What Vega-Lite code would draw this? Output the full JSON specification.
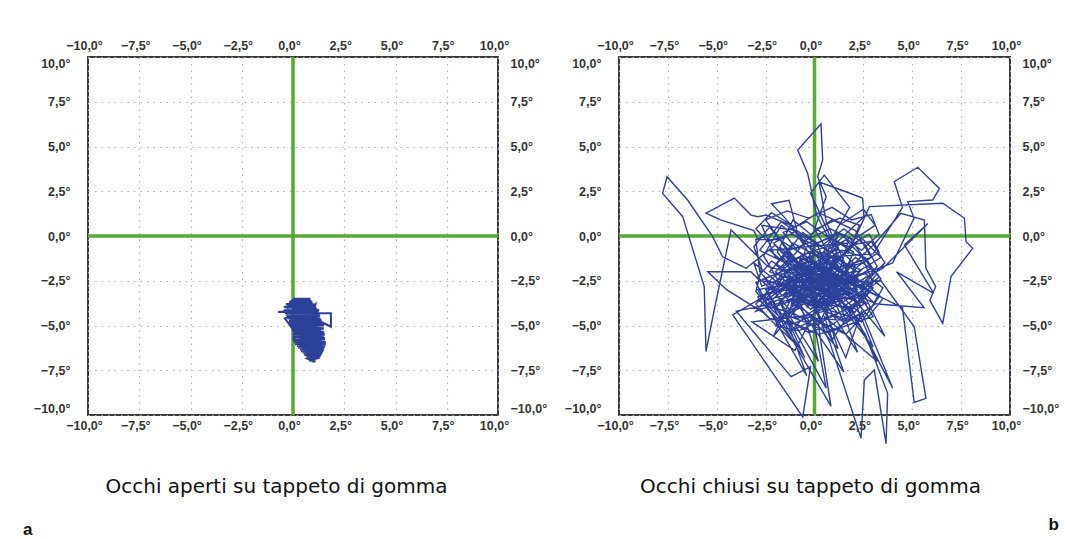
{
 "$schema": "https://vega.github.io/schema/vega-lite/v6.json",
 "padding": {"left": 22, "top": 38, "right": 0, "bottom": 0},
 "background": "white",
 "datasets": {
  "a": [
   {"x":0.0,"y":-3.5},{"x":0.85,"y":-3.5},{"x":-0.15,"y":-3.65},{"x":0.95,"y":-3.7},{"x":-0.3,"y":-3.85},{"x":1.05,"y":-3.9},{"x":-0.4,"y":-4.0},{"x":1.15,"y":-4.05},{"x":-0.73,"y":-4.25},{"x":1.2,"y":-4.2},{"x":-0.4,"y":-4.3},{"x":1.28,"y":-4.32},{"x":1.85,"y":-4.32},{"x":1.85,"y":-5.07},{"x":1.37,"y":-4.79},{"x":-0.3,"y":-4.5},{"x":1.3,"y":-4.55},{"x":-0.2,"y":-4.7},{"x":1.4,"y":-4.75},{"x":-0.15,"y":-4.9},{"x":1.45,"y":-4.95},{"x":-0.1,"y":-5.05},{"x":1.5,"y":-5.15},{"x":-0.05,"y":-5.25},{"x":1.5,"y":-5.35},{"x":0.0,"y":-5.45},{"x":1.55,"y":-5.5},{"x":0.0,"y":-5.6},{"x":1.55,"y":-5.7},{"x":0.0,"y":-5.8},{"x":1.58,"y":-5.9},{"x":0.05,"y":-5.95},{"x":1.6,"y":-6.05},{"x":0.2,"y":-6.15},{"x":1.55,"y":-6.2},{"x":0.35,"y":-6.35},{"x":1.5,"y":-6.4},{"x":0.5,"y":-6.55},{"x":1.4,"y":-6.6},{"x":0.65,"y":-6.75},{"x":1.3,"y":-6.8},{"x":0.8,"y":-6.95},{"x":1.1,"y":-7.0},
   {"x":1.0,"y":-7.02},{"x":0.7,"y":-6.85},{"x":1.35,"y":-6.7},{"x":0.55,"y":-6.65},{"x":1.45,"y":-6.5},{"x":0.4,"y":-6.45},{"x":1.52,"y":-6.3},{"x":0.25,"y":-6.25},{"x":1.58,"y":-6.12},{"x":0.1,"y":-6.05},{"x":1.6,"y":-5.95},{"x":0.0,"y":-5.85},{"x":1.56,"y":-5.75},{"x":-0.02,"y":-5.65},{"x":1.55,"y":-5.55},{"x":-0.03,"y":-5.5},{"x":1.52,"y":-5.4},{"x":-0.05,"y":-5.3},{"x":1.5,"y":-5.2},{"x":-0.1,"y":-5.1},{"x":1.47,"y":-5.0},{"x":-0.12,"y":-4.95},{"x":1.42,"y":-4.85},{"x":-0.2,"y":-4.8},{"x":1.38,"y":-4.65},{"x":-0.28,"y":-4.6},{"x":1.32,"y":-4.48},{"x":-0.35,"y":-4.4},{"x":1.25,"y":-4.35},{"x":-0.45,"y":-4.15},{"x":1.2,"y":-4.1},{"x":-0.45,"y":-3.95},{"x":1.1,"y":-3.95},{"x":-0.35,"y":-3.8},{"x":1.0,"y":-3.8},{"x":-0.2,"y":-3.7},{"x":0.9,"y":-3.62},{"x":-0.05,"y":-3.58},{"x":0.8,"y":-3.52},
   {"x":0.9,"y":-6.7},{"x":0.3,"y":-6.1},{"x":1.2,"y":-6.5},{"x":0.1,"y":-5.5},{"x":1.4,"y":-6.1},{"x":-0.05,"y":-5.1},{"x":1.5,"y":-5.6},{"x":0.4,"y":-4.6},{"x":1.2,"y":-5.9},{"x":-0.2,"y":-4.4},{"x":0.8,"y":-5.3},{"x":1.3,"y":-4.4},{"x":0.0,"y":-5.8},{"x":0.6,"y":-4.0},{"x":1.5,"y":-5.0},{"x":-0.3,"y":-4.1},{"x":1.1,"y":-4.6},{"x":0.3,"y":-3.6},{"x":0.9,"y":-4.9},{"x":-0.1,"y":-3.8},{"x":1.35,"y":-5.3},{"x":0.2,"y":-4.8},{"x":1.0,"y":-3.9},{"x":-0.4,"y":-4.6},{"x":0.7,"y":-6.3},{"x":1.45,"y":-5.7},{"x":0.1,"y":-4.2},{"x":0.5,"y":-5.9},{"x":1.25,"y":-4.1},{"x":0.3,"y":-5.2},{"x":1.0,"y":-6.7},{"x":0.6,"y":-4.3},{"x":1.5,"y":-6.2},{"x":0.0,"y":-4.0},{"x":0.8,"y":-5.6},{"x":1.1,"y":-3.8},{"x":-0.2,"y":-5.0},{"x":0.4,"y":-3.7}
  ],
  "b": [
   {"x":0.2,"y":-2.0},{"x":1.3,"y":-1.1},{"x":0.6,"y":-2.6},{"x":1.9,"y":-3.4},{"x":0.8,"y":-4.1},{"x":-0.4,"y":-3.0},{"x":-1.6,"y":-3.8},{"x":-2.4,"y":-2.6},{"x":-1.2,"y":-1.5},{"x":-2.1,"y":-0.4},{"x":-0.9,"y":0.3},{"x":0.3,"y":-0.6},{"x":1.5,"y":0.4},{"x":2.6,"y":-0.5},{"x":3.2,"y":-1.7},{"x":2.3,"y":-2.9},{"x":3.1,"y":-3.8},{"x":2.0,"y":-4.6},{"x":0.9,"y":-5.3},{"x":-0.2,"y":-4.5},{"x":-1.3,"y":-5.0},{"x":-2.2,"y":-4.1},{"x":-3.0,"y":-3.1},{"x":-2.7,"y":-1.8},{"x":-3.1,"y":-0.6},{"x":-2.3,"y":0.5},{"x":-1.4,"y":-0.7},{"x":-0.5,"y":-1.9},{"x":0.7,"y":-1.4},{"x":1.8,"y":-2.2},
   {"x":0.8,"y":-0.3},{"x":0.1,"y":1.2},{"x":-0.35,"y":3.5},{"x":-0.86,"y":4.8},{"x":0.33,"y":6.26},{"x":0.42,"y":4.25},{"x":0.16,"y":3.31},{"x":0.6,"y":2.2},{"x":0.0,"y":0.4},{"x":1.2,"y":-1.8},
   {"x":2.9,"y":-1.2},{"x":2.1,"y":0.3},{"x":0.9,"y":0.9},{"x":-0.2,"y":0.1},{"x":-1.1,"y":0.9},{"x":-1.9,"y":-0.9},{"x":-0.8,"y":-2.5},{"x":0.4,"y":-3.4},{"x":1.4,"y":-4.0},{"x":2.5,"y":-3.2},{"x":3.4,"y":-2.4},{"x":2.7,"y":-1.4},{"x":1.6,"y":-1.8},{"x":0.5,"y":-0.9},{"x":-0.6,"y":-1.3},{"x":-1.7,"y":-2.2},{"x":-2.8,"y":-3.6},{"x":-1.9,"y":-4.6},{"x":-0.7,"y":-4.0},{"x":0.3,"y":-4.8},{"x":1.6,"y":-5.5},{"x":2.6,"y":-4.3},{"x":1.8,"y":-3.1},{"x":0.9,"y":-2.1},{"x":-0.3,"y":-2.8},{"x":-1.3,"y":-3.4},{"x":-0.4,"y":-0.6},{"x":0.8,"y":-0.1},{"x":2.0,"y":-0.9},{"x":1.2,"y":-2.8},
   {"x":-2.4,"y":-1.7},{"x":-4.27,"y":0.34},{"x":-4.7,"y":-1.9},{"x":-5.13,"y":-4.13},{"x":-5.55,"y":-6.45},{"x":-5.64,"y":-2.83},{"x":-6.74,"y":1.08},{"x":-7.77,"y":2.38},{"x":-7.54,"y":3.31},{"x":-6.49,"y":2.01},{"x":-5.21,"y":-0.04},{"x":-4.7,"y":-1.16},{"x":-3.5,"y":-1.8},{"x":-2.0,"y":-0.5},{"x":-0.4,"y":-2.3},
   {"x":-2.5,"y":0.9},{"x":-1.4,"y":1.4},{"x":-0.3,"y":1.0},{"x":0.9,"y":1.6},{"x":1.9,"y":0.9},{"x":2.9,"y":1.2},{"x":3.3,"y":0.1},{"x":2.4,"y":-0.8},{"x":1.2,"y":0.2},{"x":0.0,"y":-0.5},{"x":-1.2,"y":0.1},{"x":-2.4,"y":-0.3},{"x":-3.0,"y":0.4},{"x":-2.2,"y":1.3},{"x":-1.0,"y":0.5},{"x":0.2,"y":1.3},{"x":1.4,"y":0.7},{"x":2.5,"y":1.5},{"x":3.1,"y":0.6},{"x":2.0,"y":-0.2},{"x":0.8,"y":0.4},{"x":-0.4,"y":-0.2},{"x":-1.7,"y":0.8},{"x":-2.8,"y":-0.8},{"x":-1.5,"y":-1.5},{"x":-0.2,"y":-0.9},{"x":1.1,"y":-1.5},{"x":2.4,"y":-0.1},{"x":3.4,"y":-1.2},{"x":2.2,"y":-2.0},
   {"x":1.1,"y":-1.2},{"x":0.4,"y":-3.1},{"x":-0.8,"y":-2.2},{"x":0.9,"y":-3.6},{"x":1.8,"y":-2.4},{"x":0.6,"y":-1.5},{"x":-1.5,"y":-2.8},{"x":-0.2,"y":-4.1},{"x":1.3,"y":-3.0},{"x":2.4,"y":-1.9},{"x":0.0,"y":-0.8},{"x":-1.1,"y":-3.5},{"x":1.6,"y":-4.0},{"x":0.5,"y":-2.3},
   {"x":-1.2,"y":0.6},{"x":-2.48,"y":1.17},{"x":-2.9,"y":1.08},{"x":-3.25,"y":1.17},{"x":-4.1,"y":2.12},{"x":-5.55,"y":1.28},{"x":-4.8,"y":0.9},{"x":-3.1,"y":0.3},{"x":-2.9,"y":-0.2},{"x":-1.8,"y":-0.2},{"x":0.4,"y":-1.7},
   {"x":1.0,"y":-3.0},{"x":-0.2,"y":-3.9},{"x":-1.4,"y":-3.0},{"x":-2.6,"y":-3.3},{"x":-1.8,"y":-4.3},{"x":-0.5,"y":-4.8},{"x":0.7,"y":-5.4},{"x":1.9,"y":-4.9},{"x":3.0,"y":-4.5},{"x":2.3,"y":-3.3},{"x":3.2,"y":-2.1},{"x":2.1,"y":-1.2},{"x":0.9,"y":-2.4},{"x":-0.3,"y":-1.6},{"x":-1.5,"y":-2.3},{"x":-2.7,"y":-2.8},{"x":-3.1,"y":-1.5},{"x":-2.0,"y":-2.5},{"x":-0.8,"y":-3.1},{"x":0.5,"y":-3.9},{"x":1.6,"y":-3.1},{"x":2.6,"y":-3.7},{"x":1.8,"y":-4.5},{"x":0.6,"y":-4.1},{"x":-0.6,"y":-3.4},{"x":-1.9,"y":-3.9},{"x":-1.0,"y":-2.8},{"x":0.3,"y":-3.3},{"x":1.5,"y":-2.6},{"x":0.4,"y":-1.9},
   {"x":-2.5,"y":-3.0},{"x":-0.5,"y":-6.8},{"x":-1.8,"y":-3.6},{"x":0.2,"y":-7.0},{"x":-0.7,"y":-3.9},{"x":1.2,"y":-6.3},{"x":0.4,"y":-3.5},{"x":2.2,"y":-6.5},{"x":1.3,"y":-3.8},{"x":3.0,"y":-6.2},{"x":2.0,"y":-3.5},{"x":3.6,"y":-5.6},{"x":2.5,"y":-3.2},{"x":0.9,"y":-5.8},{"x":-0.3,"y":-3.3},{"x":-2.1,"y":-5.6},{"x":-1.2,"y":-3.5},{"x":-3.0,"y":-4.2},{"x":-1.5,"y":-2.2},
   {"x":0.1,"y":-3.6},{"x":-1.0,"y":-2.2},{"x":-2.2,"y":-1.4},{"x":-2.9,"y":-2.3},{"x":-2.0,"y":-3.2},{"x":-0.9,"y":-4.6},{"x":0.5,"y":-4.2},{"x":1.7,"y":-4.7},{"x":2.9,"y":-4.0},{"x":3.5,"y":-2.9},{"x":2.6,"y":-2.1},{"x":1.4,"y":-2.5},{"x":0.3,"y":-1.7},{"x":-0.8,"y":-0.9},{"x":-1.6,"y":0.2},{"x":-0.4,"y":0.8},{"x":0.6,"y":0.0},{"x":1.7,"y":-0.6},{"x":2.8,"y":0.1},{"x":3.3,"y":-0.9},{"x":2.2,"y":-1.7},{"x":1.0,"y":-3.4},{"x":-0.1,"y":-2.3},{"x":-1.5,"y":-2.9},{"x":-2.5,"y":-3.9},{"x":-1.1,"y":-4.3},{"x":0.0,"y":-5.0},{"x":1.1,"y":-4.4},{"x":2.3,"y":-3.6},{"x":1.5,"y":-1.4},
   {"x":0.6,"y":0.8},{"x":0.23,"y":3.03},{"x":1.36,"y":2.57},{"x":2.46,"y":2.12},{"x":2.53,"y":1.08},{"x":1.0,"y":-0.5},{"x":-0.2,"y":2.4},{"x":0.5,"y":3.4},{"x":1.8,"y":1.6},{"x":0.3,"y":-1.2},
   {"x":3.0,"y":-1.0},{"x":4.5,"y":1.6},{"x":4.08,"y":3.03},{"x":5.28,"y":3.84},{"x":6.39,"y":2.66},{"x":6.05,"y":2.01},{"x":4.77,"y":1.92},{"x":5.09,"y":1.0},{"x":4.0,"y":-1.5},{"x":2.1,"y":-2.3},
   {"x":-0.8,"y":-2.6},{"x":-2.0,"y":-1.6},{"x":-1.1,"y":-0.4},{"x":0.1,"y":-1.1},{"x":1.3,"y":-1.9},{"x":2.5,"y":-2.6},{"x":3.5,"y":-3.5},{"x":2.7,"y":-4.6},{"x":1.4,"y":-5.1},{"x":0.2,"y":-5.5},{"x":-1.0,"y":-4.9},{"x":-2.3,"y":-4.6},{"x":-3.0,"y":-3.8},{"x":-2.2,"y":-2.9},{"x":-1.1,"y":-3.7},{"x":0.0,"y":-3.1},{"x":1.2,"y":-4.3},{"x":2.2,"y":-3.9},{"x":3.0,"y":-2.9},{"x":2.0,"y":-2.4},{"x":0.8,"y":-3.3},{"x":-0.5,"y":-2.5},{"x":-1.6,"y":-1.2},{"x":-0.6,"y":0.2},{"x":0.6,"y":-0.8},{"x":1.8,"y":-0.1},{"x":2.9,"y":-1.8},{"x":1.7,"y":-2.6},{"x":0.5,"y":-2.0},{"x":-0.7,"y":-1.1},
   {"x":-1.2,"y":-3.9},{"x":0.7,"y":-0.9},{"x":2.4,"y":-3.4},{"x":-0.3,"y":-1.4},{"x":-2.6,"y":-2.4},{"x":0.5,"y":-3.8},{"x":1.9,"y":-1.6},{"x":-0.7,"y":-2.9},{"x":1.3,"y":0.2},{"x":0.1,"y":-2.5},{"x":2.1,"y":-4.3},{"x":-1.4,"y":-1.1},{"x":0.9,"y":-2.6},
   {"x":0.4,"y":-2.0},{"x":-0.7,"y":-3.4},{"x":-1.8,"y":-2.6},{"x":-2.6,"y":-1.1},{"x":-1.7,"y":0.6},{"x":-0.6,"y":-0.3},{"x":0.5,"y":-1.2},{"x":1.6,"y":-0.2},{"x":2.4,"y":-1.1},{"x":3.0,"y":-2.6},{"x":2.1,"y":-3.9},{"x":1.0,"y":-4.9},{"x":-0.3,"y":-5.4},{"x":-1.6,"y":-4.5},{"x":-2.3,"y":-3.3},{"x":-1.4,"y":-2.0},{"x":-0.2,"y":-1.4},{"x":1.1,"y":-2.3},{"x":2.2,"y":-2.8},{"x":3.3,"y":-3.4},{"x":2.4,"y":-4.8},{"x":1.3,"y":-3.6},{"x":0.2,"y":-4.2},{"x":-0.9,"y":-3.1},{"x":-2.0,"y":-2.0},{"x":-1.0,"y":-1.0},{"x":0.1,"y":0.4},{"x":1.3,"y":1.0},{"x":2.3,"y":0.6},{"x":1.7,"y":-1.0},
   {"x":2.81,"y":1.64},{"x":6.56,"y":1.83},{"x":7.67,"y":0.99},{"x":7.75,"y":-0.32},{"x":8.09,"y":-0.69},{"x":6.98,"y":-2.27},{"x":6.56,"y":-4.88},{"x":5.9,"y":-3.6},{"x":6.2,"y":-2.83},{"x":5.7,"y":-1.8},{"x":5.62,"y":0.89},{"x":4.42,"y":1.27},{"x":3.1,"y":-0.4},{"x":1.4,"y":-2.2},
   {"x":-1.9,"y":-2.1},{"x":-3.0,"y":-2.6},{"x":-2.4,"y":-3.8},{"x":-1.2,"y":-3.3},{"x":0.0,"y":-2.0},{"x":1.2,"y":-3.2},{"x":2.4,"y":-4.4},{"x":1.3,"y":-4.7},{"x":0.1,"y":-4.6},{"x":-1.2,"y":-5.3},{"x":-0.4,"y":-4.4},{"x":0.8,"y":-3.6},{"x":2.0,"y":-3.4},{"x":3.3,"y":-2.3},{"x":2.6,"y":-1.2},{"x":1.4,"y":-0.8},{"x":0.2,"y":-1.7},{"x":-1.0,"y":-2.5},{"x":-2.3,"y":-2.0},{"x":-1.3,"y":-0.8},{"x":-0.1,"y":-0.3},{"x":1.0,"y":-1.0},{"x":2.1,"y":-2.0},{"x":1.1,"y":-2.7},{"x":-0.1,"y":-3.6},{"x":-1.4,"y":-4.2},{"x":-0.3,"y":-2.9},{"x":0.9,"y":-3.8},{"x":2.2,"y":-3.0},{"x":1.0,"y":-1.6},
   {"x":-0.2,"y":-3.5},{"x":0.8,"y":-6.0},{"x":2.38,"y":-11.3},{"x":2.55,"y":-8.04},{"x":3.06,"y":-7.49},{"x":3.66,"y":-11.6},{"x":3.74,"y":-8.79},{"x":2.6,"y":-5.5},{"x":1.1,"y":-3.2},
   {"x":0.6,"y":-3.0},{"x":-0.5,"y":-2.1},{"x":-1.9,"y":-3.1},{"x":-2.8,"y":-2.0},{"x":-3.0,"y":-0.2},{"x":-2.0,"y":0.2},{"x":-1.2,"y":-1.2},{"x":0.2,"y":-2.5},{"x":1.5,"y":-3.3},{"x":2.7,"y":-2.5},{"x":3.6,"y":-1.5},{"x":2.9,"y":-0.3},{"x":1.9,"y":-0.5},{"x":0.9,"y":-1.7},{"x":-0.2,"y":-3.3},{"x":-1.2,"y":-4.0},{"x":-2.0,"y":-5.0},{"x":-0.8,"y":-5.3},{"x":0.5,"y":-4.6},{"x":1.9,"y":-4.0},{"x":2.8,"y":-3.1},{"x":1.9,"y":-2.0},{"x":0.7,"y":-2.6},{"x":-0.4,"y":-3.9},{"x":-1.6,"y":-1.7},{"x":-0.3,"y":-0.9},{"x":1.0,"y":-0.5},{"x":2.1,"y":-1.6},{"x":1.2,"y":-3.9},{"x":0.0,"y":-2.6},
   {"x":3.4,"y":-2.5},{"x":5.1,"y":-5.07},{"x":5.7,"y":-9.07},{"x":5.1,"y":-9.3},{"x":4.5,"y":-4.0},{"x":3.0,"y":-3.2},{"x":1.2,"y":-2.4},
   {"x":-1.6,"y":-2.5},{"x":2.0,"y":-2.2},{"x":-0.1,"y":-3.9},{"x":1.2,"y":-0.7},{"x":-2.1,"y":-2.9},{"x":0.8,"y":-1.7},{"x":2.9,"y":-3.1},{"x":-0.8,"y":-1.2},{"x":1.5,"y":-3.8},{"x":0.1,"y":-0.4},{"x":-1.3,"y":-3.1},{"x":2.3,"y":-2.5},
   {"x":-1.4,"y":-2.6},{"x":-4.18,"y":-4.41},{"x":-0.6,"y":-10.1},{"x":-0.2,"y":-7.3},{"x":-1.2,"y":-7.86},{"x":-4.0,"y":-4.2},{"x":-2.2,"y":-3.8},{"x":0.84,"y":-9.5},{"x":0.2,"y":-5.0},{"x":1.0,"y":-3.1},
   {"x":-2.8,"y":-2.5},{"x":-3.25,"y":-2.0},{"x":-5.46,"y":-2.0},{"x":-4.5,"y":-3.0},{"x":-2.6,"y":-4.3},{"x":-0.9,"y":-6.1},{"x":-2.9,"y":-3.4},{"x":-1.1,"y":-2.7},
   {"x":-1.6,"y":-3.3},{"x":0.9,"y":-1.9},{"x":2.7,"y":-3.8},{"x":0.1,"y":-3.0},{"x":-2.3,"y":-0.8},{"x":1.7,"y":-0.4},{"x":0.6,"y":-4.4},{"x":-1.0,"y":-1.8},{"x":2.2,"y":-2.6},{"x":0.0,"y":-1.0},{"x":-0.9,"y":-3.7},{"x":1.3,"y":-2.3},
   {"x":-1.0,"y":-3.6},{"x":1.5,"y":-7.6},{"x":0.5,"y":-4.5},{"x":3.2,"y":-7.0},{"x":1.8,"y":-3.9},{"x":4.0,"y":-8.5},{"x":2.4,"y":-4.2},{"x":1.6,"y":-6.8},{"x":0.3,"y":-3.7},
   {"x":3.5,"y":-1.8},{"x":5.8,"y":0.7},{"x":4.6,"y":-0.5},{"x":6.1,"y":-3.2},{"x":4.2,"y":-2.0},{"x":5.6,"y":-4.0},{"x":3.2,"y":-3.8},{"x":1.5,"y":-3.0},
   {"x":-1.5,"y":1.0},{"x":-2.2,"y":1.8},{"x":-1.3,"y":2.0},{"x":-0.9,"y":0.3},{"x":-2.7,"y":0.6},{"x":-2.0,"y":-1.2},{"x":0.3,"y":-2.3},
   {"x":-2.9,"y":-3.0},{"x":-0.4,"y":-7.8},{"x":-1.6,"y":-4.1},{"x":0.6,"y":-8.5},{"x":-0.1,"y":-4.4},{"x":-3.2,"y":-4.8},{"x":-1.0,"y":-6.4},{"x":0.5,"y":-3.2},
   {"x":-0.7,"y":-3.3},{"x":1.5,"y":-4.8},{"x":0.2,"y":-1.6},{"x":-2.5,"y":-3.6},{"x":2.4,"y":-2.1},{"x":0.0,"y":-4.3},{"x":1.1,"y":-1.0},{"x":-1.2,"y":-2.4},{"x":2.9,"y":-2.6},{"x":0.5,"y":-3.4},
   {"x":1.0,"y":-2.0},{"x":-0.4,"y":-4.0},{"x":2.0,"y":-1.5},{"x":0.6,"y":-3.1},{"x":-1.8,"y":-0.6},{"x":1.4,"y":-3.4},{"x":-0.1,"y":-1.5},{"x":2.4,"y":-3.9},{"x":0.3,"y":-2.2},{"x":-1.3,"y":-4.4},{"x":1.6,"y":-0.9}
  ]
 },
 "bounds": "flush",
 "spacing": 121,
 "hconcat": [
  {
   "width": 410,
   "height": 358,
   "title": {"text": "a", "orient": "bottom", "anchor": "start", "frame": "group", "dx": -65, "offset": 25, "fontSize": 17, "fontWeight": "bold", "font": "Liberation Sans", "color": "#111111"},
   "layer": [
    {
     "data": {"values": [{}]},
     "mark": {"type": "rule", "color": "#55ab33", "strokeWidth": 3.5},
     "encoding": {"x": {"datum": 0, "type": "quantitative", "scale": {"domain": [-10, 10], "nice": false, "zero": false},
       "axis": {"orient": "top", "values": [-10, -7.5, -5, -2.5, 0, 2.5, 5, 7.5, 10], "labelExpr": "replace(format(datum.value, '.1f'), '.', ',') + '°'", "labelFlush": false, "labelPadding": 5, "labelOffset": -4, "grid": false, "title": null}}}
    },
    {
     "data": {"values": [{}]},
     "mark": {"type": "rule", "color": "#55ab33", "strokeWidth": 3.5},
     "encoding": {"y": {"datum": 0, "type": "quantitative", "scale": {"domain": [-10, 10], "nice": false, "zero": false},
       "axis": {"orient": "right", "values": [-10, -7.5, -5, -2.5, 0, 2.5, 5, 7.5, 10], "labelExpr": "replace(format(datum.value, '.1f'), '.', ',') + '°'", "labelFlush": true, "labelPadding": 12, "grid": false, "title": null}}}
    },
    {
     "data": {"name": "a"},
     "mark": {"type": "line", "color": "#2e419a", "strokeWidth": 2, "clip": false},
     "encoding": {
      "x": {"field": "x", "type": "quantitative", "scale": {"domain": [-10, 10], "nice": false, "zero": false},
       "axis": {"orient": "bottom", "values": [-10, -7.5, -5, -2.5, 0, 2.5, 5, 7.5, 10], "labelExpr": "replace(format(datum.value, '.1f'), '.', ',') + '°'", "labelFlush": false, "labelPadding": 4, "labelOffset": -4, "grid": true, "title": "Occhi aperti su tappeto di gomma", "titleFont": "DejaVu Sans", "titleFontSize": 20, "titleFontWeight": "normal", "titleColor": "#111111", "titlePadding": 45, "titleX": 188}},
      "y": {"field": "y", "type": "quantitative", "scale": {"domain": [-10, 10], "nice": false, "zero": false},
       "axis": {"orient": "left", "values": [-10, -7.5, -5, -2.5, 0, 2.5, 5, 7.5, 10], "labelExpr": "replace(format(datum.value, '.1f'), '.', ',') + '°'", "labelFlush": true, "labelPadding": 18, "grid": true, "title": null}},
      "order": {"value": null}
     }
    }
   ],
   "resolve": {"axis": {"x": "independent", "y": "independent"}}
  },
  {
   "width": 391,
   "height": 358,
   "title": {"text": "b", "orient": "bottom", "anchor": "end", "frame": "group", "dx": 49, "offset": 20, "fontSize": 17, "fontWeight": "bold", "font": "Liberation Sans", "color": "#111111"},
   "layer": [
    {
     "data": {"values": [{}]},
     "mark": {"type": "rule", "color": "#55ab33", "strokeWidth": 3.5},
     "encoding": {"x": {"datum": 0, "type": "quantitative", "scale": {"domain": [-10, 10], "nice": false, "zero": false},
       "axis": {"orient": "top", "values": [-10, -7.5, -5, -2.5, 0, 2.5, 5, 7.5, 10], "labelExpr": "replace(format(datum.value, '.1f'), '.', ',') + '°'", "labelFlush": false, "labelPadding": 5, "labelOffset": -4, "grid": false, "title": null}}}
    },
    {
     "data": {"values": [{}]},
     "mark": {"type": "rule", "color": "#55ab33", "strokeWidth": 3.5},
     "encoding": {"y": {"datum": 0, "type": "quantitative", "scale": {"domain": [-10, 10], "nice": false, "zero": false},
       "axis": {"orient": "right", "values": [-10, -7.5, -5, -2.5, 0, 2.5, 5, 7.5, 10], "labelExpr": "replace(format(datum.value, '.1f'), '.', ',') + '°'", "labelFlush": true, "labelPadding": 12, "grid": false, "title": null}}}
    },
    {
     "data": {"name": "b"},
     "mark": {"type": "line", "color": "#2e419a", "strokeWidth": 1.4, "clip": false},
     "encoding": {
      "x": {"field": "x", "type": "quantitative", "scale": {"domain": [-10, 10], "nice": false, "zero": false},
       "axis": {"orient": "bottom", "values": [-10, -7.5, -5, -2.5, 0, 2.5, 5, 7.5, 10], "labelExpr": "replace(format(datum.value, '.1f'), '.', ',') + '°'", "labelFlush": false, "labelPadding": 4, "labelOffset": -4, "grid": true, "title": "Occhi chiusi su tappeto di gomma", "titleFont": "DejaVu Sans", "titleFontSize": 20, "titleFontWeight": "normal", "titleColor": "#111111", "titlePadding": 45, "titleX": 191}},
      "y": {"field": "y", "type": "quantitative", "scale": {"domain": [-10, 10], "nice": false, "zero": false},
       "axis": {"orient": "left", "values": [-10, -7.5, -5, -2.5, 0, 2.5, 5, 7.5, 10], "labelExpr": "replace(format(datum.value, '.1f'), '.', ',') + '°'", "labelFlush": true, "labelPadding": 18, "grid": true, "title": null}},
      "order": {"value": null}
     }
    }
   ],
   "resolve": {"axis": {"x": "independent", "y": "independent"}}
  }
 ],
 "config": {
  "view": {"stroke": "#3a3a3a", "strokeWidth": 2},
  "axis": {"domain": false, "ticks": false, "labelFont": "Liberation Sans", "labelFontSize": 12.5, "labelFontWeight": "bold", "labelColor": "#333333", "gridColor": "#b0b0b0", "gridDash": [1.5, 5], "gridWidth": 1.2}
 }
}
